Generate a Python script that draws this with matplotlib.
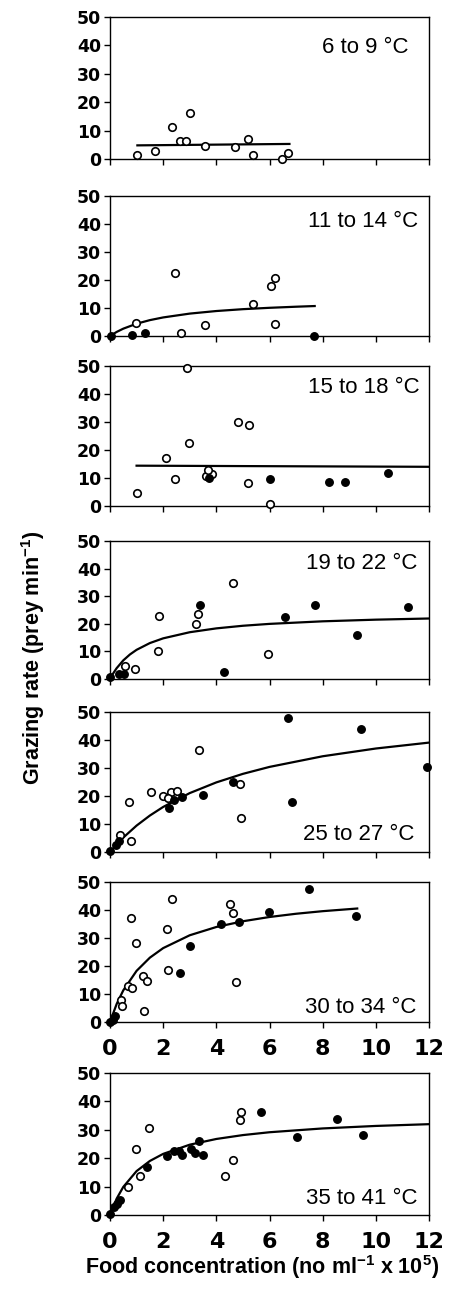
import matplotlib
matplotlib.use("Agg")
import matplotlib.pyplot as plt

plt.rcParams['mathtext.fontset'] = 'custom'
plt.rcParams['mathtext.rm'] = 'Liberation Sans'
plt.rcParams['mathtext.bf'] = 'Liberation Sans:bold'

# panel labels (temperature ranges)
labels = ["6 to 9 °C", "11 to 14 °C", "15 to 18 °C", "19 to 22 °C",
          "25 to 27 °C", "30 to 34 °C", "35 to 41 °C"]

# 6 to 9 C
p1_open_x = [1.03, 1.69, 2.35, 2.65, 2.85, 3.0, 3.58, 4.69, 5.19, 5.38, 6.48, 6.69]
p1_open_y = [1.3, 2.9, 11.1, 6.4, 6.4, 16.1, 4.6, 4.1, 6.9, 1.3, 0.1, 2.0]
p1_fill_x = []
p1_fill_y = []
p1_fit_x = [1.03, 6.75]
p1_fit_y = [4.8, 5.3]

# 11 to 14 C
p2_open_x = [0.96, 2.43, 2.68, 3.56, 5.38, 6.05, 6.19, 6.19]
p2_open_y = [4.8, 22.6, 1.1, 3.8, 11.4, 17.7, 20.7, 4.2]
p2_fill_x = [0.05, 0.84, 1.31, 7.68]
p2_fill_y = [0.0, 0.4, 1.1, 0.0]
p2_fit_x = [0, 0.25, 0.5, 1, 1.5, 2, 3, 4, 5, 6, 7, 7.7]
p2_fit_y = [0, 1.45, 2.62, 4.39, 5.67, 6.63, 8.0, 8.92, 9.58, 10.07, 10.46, 10.7]

# 15 to 18 C
p3_open_x = [2.9, 4.83, 5.22, 2.96, 2.12, 2.45, 3.6, 3.85, 3.7, 5.2, 1.0, 6.0]
p3_open_y = [49.4, 29.9, 29.1, 22.6, 17.0, 9.5, 10.7, 11.4, 12.8, 8.1, 4.5, 0.7]
p3_fill_x = [3.72, 6.02, 8.25, 8.83, 10.47]
p3_fill_y = [9.9, 9.5, 8.4, 8.4, 11.9]
p3_fit_x = [1.0, 12.0]
p3_fit_y = [14.4, 14.0]

# 19 to 22 C
p4_open_x = [0.55, 0.93, 1.84, 1.81, 3.3, 3.24, 4.61, 5.94]
p4_open_y = [4.6, 3.5, 22.9, 10.1, 23.7, 20.1, 34.8, 9.0]
p4_fill_x = [0.0, 0.34, 0.54, 3.4, 4.3, 6.6, 7.7, 9.31, 11.22]
p4_fill_y = [0.7, 1.9, 1.9, 26.9, 2.5, 22.5, 26.8, 15.8, 26.1]
p4_fit_x = [0, 0.1, 0.25, 0.5, 0.75, 1, 1.5, 2, 3, 4, 5, 6, 8, 10, 12]
p4_fit_y = [0, 1.74, 3.92, 6.75, 8.89, 10.57, 13.02, 14.73, 16.95, 18.34,
            19.29, 19.97, 20.9, 21.5, 21.92]

# 25 to 27 C
p5_open_x = [0.38, 0.78, 0.73, 1.56, 2.0, 2.3, 2.53, 2.19, 3.36, 4.88, 4.91]
p5_open_y = [5.9, 3.8, 17.7, 21.3, 20.1, 21.4, 21.9, 19.2, 36.4, 24.3, 12.0]
p5_fill_x = [0.0, 0.24, 0.34, 6.7, 9.43, 11.94, 4.64, 6.85, 3.5, 2.21, 2.4, 2.69]
p5_fill_y = [0.2, 2.4, 3.8, 48.0, 44.0, 30.2, 25.0, 17.9, 20.4, 15.6, 18.6, 19.8]
p5_fit_x = [0, 0.25, 0.5, 1, 1.5, 2, 3, 4, 5, 6, 8, 10, 12]
p5_fit_y = [0, 2.71, 5.16, 9.43, 13.02, 16.09, 21.04, 24.86, 27.91, 30.39,
            34.19, 36.96, 39.07]

# 30 to 34 C
p6_open_x = [0.79, 0.99, 2.14, 2.33, 2.18, 4.51, 4.63, 4.74, 1.25, 1.38, 1.28,
             0.66, 0.84, 0.4, 0.45]
p6_open_y = [37.1, 28.1, 33.1, 44.1, 18.5, 42.3, 39.1, 14.4, 16.5, 14.5, 3.9,
             12.7, 12.2, 8.0, 5.6]
p6_fill_x = [0.0, 0.1, 0.2, 7.48, 9.26, 5.98, 4.86, 4.16, 3.0, 2.65]
p6_fill_y = [0.0, 0.8, 2.0, 47.6, 38.0, 39.2, 35.6, 34.9, 27.0, 17.6]
p6_fit_x = [0, 0.25, 0.5, 1, 1.5, 2, 3, 4, 5, 6, 7, 8, 9.3]
p6_fit_y = [0, 6.42, 11.31, 18.27, 22.98, 26.39, 30.98, 33.93, 35.98, 37.5,
            38.66, 39.58, 40.53]

# 35 to 41 C
p7_open_x = [0.69, 0.99, 1.11, 1.45, 4.33, 4.61, 4.88, 4.93]
p7_open_y = [10.0, 23.3, 13.8, 30.5, 13.6, 19.4, 33.3, 36.4]
p7_fill_x = [0.0, 0.15, 0.25, 0.36, 1.4, 2.15, 2.4, 2.59, 2.69, 3.03, 3.19,
             3.36, 3.49, 5.69, 7.05, 8.54, 9.5]
p7_fill_y = [0.4, 2.9, 3.9, 5.3, 16.8, 20.6, 22.7, 22.5, 21.2, 23.2, 21.8,
             25.9, 21.3, 36.2, 27.6, 33.8, 28.0]
p7_fit_x = [0, 0.25, 0.5, 1, 1.5, 2, 3, 4, 5, 6, 8, 10, 12]
p7_fit_y = [0, 5.75, 9.89, 15.46, 19.03, 21.52, 24.76, 26.77, 28.14, 29.14,
            30.48, 31.36, 31.98]

x_ticks = [0, 2, 4, 6, 8, 10, 12]
y_ticks = [0, 10, 20, 30, 40, 50]

W, H = 451, 1291
# (top, bottom) of each plot box in pixels
boxes = [(17, 159), (196, 336), (366, 506), (541, 679),
         (712, 852), (882, 1022), (1073, 1215)]
left_px, right_px = 110, 429

panels = [
    (p1_open_x, p1_open_y, p1_fill_x, p1_fill_y, p1_fit_x, p1_fit_y),
    (p2_open_x, p2_open_y, p2_fill_x, p2_fill_y, p2_fit_x, p2_fit_y),
    (p3_open_x, p3_open_y, p3_fill_x, p3_fill_y, p3_fit_x, p3_fit_y),
    (p4_open_x, p4_open_y, p4_fill_x, p4_fill_y, p4_fit_x, p4_fit_y),
    (p5_open_x, p5_open_y, p5_fill_x, p5_fill_y, p5_fit_x, p5_fit_y),
    (p6_open_x, p6_open_y, p6_fill_x, p6_fill_y, p6_fit_x, p6_fit_y),
    (p7_open_x, p7_open_y, p7_fill_x, p7_fill_y, p7_fit_x, p7_fit_y),
]

# label placement: (x frac, y frac, vertical alignment)
label_pos = [(0.935, 0.86, "top"), (0.965, 0.89, "top"), (0.97, 0.92, "top"),
             (0.965, 0.91, "top"), (0.955, 0.085, "baseline"),
             (0.96, 0.065, "baseline"), (0.965, 0.078, "baseline")]


def draw_panel(ax, data, label, lpos, show_x):
    ox, oy, fx, fy, cx, cy = data
    ax.plot(cx, cy, color="black", lw=1.6, zorder=2)
    ax.plot(ox, oy, "o", ms=5.4, mfc="white", mec="black", mew=1.2,
            clip_on=False, zorder=3)
    ax.plot(fx, fy, "o", ms=5.4, mfc="black", mec="black", mew=1.0,
            clip_on=False, zorder=4)
    ax.set_xlim(0, 12)
    ax.set_ylim(0, 50)
    ax.set_xticks(x_ticks)
    ax.set_yticks(y_ticks)
    ax.tick_params(direction="out", length=4.5, width=1, color="black")
    ax.tick_params(axis="y", pad=2, labelsize=12.5)
    ax.tick_params(axis="x", pad=8, labelsize=16)
    for t in ax.get_yticklabels():
        t.set_fontweight("bold")
        t.set_family("DejaVu Sans")
    if show_x:
        for t in ax.get_xticklabels():
            t.set_fontweight("bold")
            t.set_family("DejaVu Sans")
    else:
        ax.set_xticklabels([])
    for s in ax.spines.values():
        s.set_linewidth(1.0)
        s.set_color("black")
    ax.text(lpos[0], lpos[1], label, transform=ax.transAxes, ha="right",
            va=lpos[2], fontsize=16, family="Liberation Sans")


def main():
    fig = plt.figure(figsize=(W / 100, H / 100), dpi=100)
    for i in range(7):
        top, bot = boxes[i]
        rect = [left_px / W, 1 - bot / H, (right_px - left_px) / W, (bot - top) / H]
        ax = fig.add_axes(rect)
        draw_panel(ax, panels[i], labels[i], label_pos[i], i >= 5)

    fig.text(33 / W, 1 - 658 / H, "Grazing rate (prey min$^{\\mathbf{-1}}$)",
             rotation=90, ha="center", va="center", fontsize=15.5,
             fontweight="bold", family="Liberation Sans")
    fig.text(262 / W, 1 - 1267 / H,
             "Food concentration (no ml$^{\\mathbf{-1}}$ x 10$^{\\mathbf{5}}$)",
             ha="center", va="center", fontsize=15.5, fontweight="bold",
             family="Liberation Sans")
    fig.savefig("out.png", dpi=100)
    return


if __name__ == '__main__':
    main()
